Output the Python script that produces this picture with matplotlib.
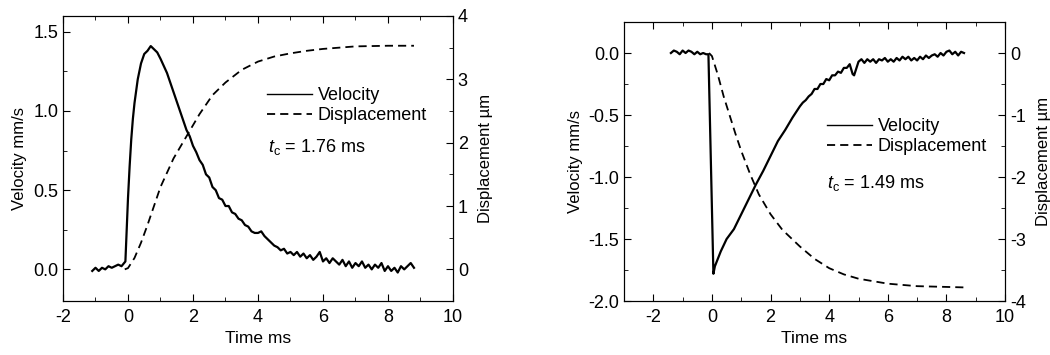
import matplotlib
matplotlib.use('Agg')
import matplotlib.pyplot as plt
from matplotlib.ticker import MultipleLocator
from matplotlib.lines import Line2D

plt.rcParams['font.family'] = ['Liberation Sans', 'DejaVu Sans']
plt.rcParams['font.size'] = 13
plt.rcParams['axes.unicode_minus'] = False
plt.rcParams['mathtext.fontset'] = 'custom'
plt.rcParams['mathtext.rm'] = 'Liberation Sans'
plt.rcParams['mathtext.it'] = 'Liberation Sans:italic'

# left panel: velocity (mm/s) and displacement (um) vs time (ms)
t1 = [-1.1, -1.0, -0.9, -0.8, -0.7, -0.6, -0.5, -0.4, -0.3, -0.2, -0.12, -0.08, -0.04, 0.0,
      0.05, 0.1, 0.15, 0.2, 0.3, 0.4, 0.5, 0.6, 0.7, 0.8, 0.9, 1.0, 1.2, 1.4, 1.6, 1.8,
      1.9, 2.0, 2.1, 2.2, 2.3, 2.4, 2.5, 2.6, 2.7, 2.8, 2.9, 3.0, 3.1, 3.2, 3.3, 3.4,
      3.5, 3.6, 3.7, 3.8, 3.9, 4.0, 4.1, 4.2, 4.3, 4.4, 4.5, 4.6, 4.7, 4.8, 4.9, 5.0,
      5.1, 5.2, 5.3, 5.4, 5.5, 5.6, 5.7, 5.8, 5.9, 6.0, 6.1, 6.2, 6.3, 6.4, 6.5, 6.6,
      6.7, 6.8, 6.9, 7.0, 7.1, 7.2, 7.3, 7.4, 7.5, 7.6, 7.7, 7.8, 7.9, 8.0, 8.1, 8.2,
      8.3, 8.4, 8.5, 8.6, 8.7, 8.8]
vel1 = [-0.01, 0.01, -0.01, 0.01, 0.00, 0.02, 0.01, 0.02, 0.03, 0.02, 0.04, 0.05, 0.25, 0.45,
        0.65, 0.82, 0.95, 1.05, 1.20, 1.30, 1.36, 1.38, 1.41, 1.39, 1.37, 1.33, 1.24, 1.12, 1.00, 0.88,
        0.84, 0.78, 0.74, 0.69, 0.66, 0.60, 0.58, 0.52, 0.50, 0.45, 0.44, 0.40, 0.40, 0.36, 0.35, 0.32,
        0.31, 0.28, 0.27, 0.24, 0.23, 0.23, 0.24, 0.21, 0.19, 0.17, 0.15, 0.14, 0.12, 0.13, 0.10, 0.11,
        0.09, 0.11, 0.08, 0.10, 0.07, 0.09, 0.06, 0.08, 0.11, 0.05, 0.07, 0.04, 0.07, 0.05, 0.03, 0.06,
        0.02, 0.05, 0.01, 0.04, 0.02, 0.05, 0.01, 0.03, 0.00, 0.03, 0.01, 0.04, -0.01, 0.02, -0.01, 0.01,
        -0.02, 0.02, 0.00, 0.02, 0.04, 0.01]
td1 = [-0.1, 0.0, 0.2, 0.4, 0.6, 0.8, 1.0, 1.4, 1.8, 2.2, 2.6, 3.0, 3.5, 4.0, 4.5, 5.0,
       5.5, 6.0, 7.0, 8.0, 8.8]
disp1 = [0.0, 0.02, 0.18, 0.42, 0.70, 1.00, 1.30, 1.75, 2.10, 2.45, 2.75, 2.95, 3.15, 3.28, 3.36, 3.41,
         3.45, 3.48, 3.52, 3.53, 3.53]

# right panel
t2 = [-1.4, -1.3, -1.2, -1.1, -1.0, -0.9, -0.8, -0.7, -0.6, -0.5, -0.4, -0.3, -0.2, -0.12,
      0.05, 0.1, 0.2, 0.3, 0.5, 0.75, 1.0, 1.25, 1.5, 1.75, 2.0, 2.25, 2.5, 2.75, 3.0, 3.1,
      3.2, 3.3, 3.4, 3.5, 3.6, 3.7, 3.8, 3.9, 4.0, 4.1, 4.2, 4.3, 4.4, 4.5, 4.6, 4.7,
      4.8, 4.85, 5.0, 5.1, 5.2, 5.3, 5.4, 5.5, 5.6, 5.7, 5.8, 5.9, 6.0, 6.1, 6.2, 6.3,
      6.4, 6.5, 6.6, 6.7, 6.8, 6.9, 7.0, 7.1, 7.2, 7.3, 7.4, 7.5, 7.6, 7.7, 7.8, 7.9,
      8.0, 8.1, 8.2, 8.3, 8.4, 8.5, 8.6]
vel2 = [0.00, 0.02, 0.01, -0.01, 0.02, 0.00, 0.02, 0.01, -0.01, 0.01, -0.01, 0.00, -0.01, -0.01,
        -1.78, -1.72, -1.66, -1.60, -1.50, -1.42, -1.30, -1.18, -1.06, -0.95, -0.83, -0.71, -0.62, -0.52, -0.43, -0.40,
        -0.38, -0.35, -0.33, -0.29, -0.29, -0.25, -0.25, -0.21, -0.22, -0.18, -0.18, -0.15, -0.16, -0.12, -0.12, -0.09,
        -0.17, -0.18, -0.07, -0.05, -0.08, -0.05, -0.07, -0.05, -0.08, -0.05, -0.06, -0.04, -0.07, -0.05, -0.07, -0.04,
        -0.06, -0.03, -0.05, -0.03, -0.06, -0.04, -0.06, -0.03, -0.05, -0.02, -0.04, -0.02, -0.01, -0.03, 0.00, -0.02,
        0.01, 0.02, -0.01, 0.01, -0.02, 0.01, 0.00]
td2 = [-0.1, 0.0, 0.2, 0.4, 0.6, 0.8, 1.0, 1.3, 1.6, 2.0, 2.4, 3.0, 3.5, 4.0, 4.5, 5.0,
       6.0, 7.0, 8.6]
disp2 = [0.0, -0.05, -0.35, -0.70, -1.00, -1.30, -1.58, -1.95, -2.28, -2.60, -2.85, -3.12, -3.32, -3.47, -3.57, -3.64,
         -3.72, -3.76, -3.78]

panels = [
    dict(t=t1, v=vel1, td=td1, d=disp1, tc='1.76', xlim=(-2, 10), vlim=(-0.2, 1.6), dlim=(-0.5, 4),
         rect=[0.06, 0.152, 0.3714, 0.803], leg=(0.523, 0.75), tcpos=(0.526, 0.54)),
    dict(t=t2, v=vel2, td=td2, d=disp2, tc='1.49', xlim=(-3, 10), vlim=(-2.0, 0.25), dlim=(-4, 0.5),
         rect=[0.5943, 0.152, 0.3629, 0.786], leg=(0.533, 0.655), tcpos=(0.533, 0.423)),
]

fig = plt.figure(figsize=(10.5, 3.55), dpi=100)

for p in panels:
    ax = fig.add_axes(p['rect'])
    ax2 = ax.twinx()
    ax.plot(p['t'], p['v'], color='black', lw=1.6)
    ax2.plot(p['td'], p['d'], color='black', lw=1.3, dashes=(4.5, 2.8))
    ax.set_xlim(p['xlim'])
    ax.set_ylim(p['vlim'])
    ax2.set_ylim(p['dlim'])
    ax.xaxis.set_major_locator(MultipleLocator(2))
    ax.xaxis.set_minor_locator(MultipleLocator(1))
    ax.yaxis.set_major_locator(MultipleLocator(0.5))
    ax.yaxis.set_minor_locator(MultipleLocator(0.25))
    ax.yaxis.set_major_formatter(plt.FormatStrFormatter('%.1f'))
    ax2.yaxis.set_major_locator(MultipleLocator(1))
    ax2.yaxis.set_minor_locator(MultipleLocator(0.5))
    ax.tick_params(which='both', direction='in', top=True, right=False)
    ax.tick_params(which='major', length=5)
    ax.tick_params(which='minor', length=3)
    ax.tick_params(axis='x', which='major', pad=6)
    ax2.tick_params(which='both', direction='in')
    ax2.tick_params(which='major', length=5)
    ax2.tick_params(which='minor', length=3)
    ax.set_xlabel('Time ms', fontsize=12.5, labelpad=3)
    ax.set_ylabel('Velocity mm/s', fontsize=12)
    ax2.set_ylabel('Displacement µm', fontsize=12, labelpad=7)
    h1 = Line2D([], [], color='black', lw=1.0)
    h2 = Line2D([], [], color='black', lw=1.3, dashes=(4.5, 2.8))
    ax2.legend([h1, h2], ['Velocity', 'Displacement'], loc='upper left',
               bbox_to_anchor=p['leg'], frameon=False, handlelength=2.5,
               handletextpad=0.3, labelspacing=0.15, borderpad=0, borderaxespad=0)
    ax.text(p['tcpos'][0], p['tcpos'][1], r'$t_{\rm c}$ = ' + p['tc'] + ' ms',
            transform=ax.transAxes, va='center', ha='left')

fig.savefig('out.png', dpi=100)
